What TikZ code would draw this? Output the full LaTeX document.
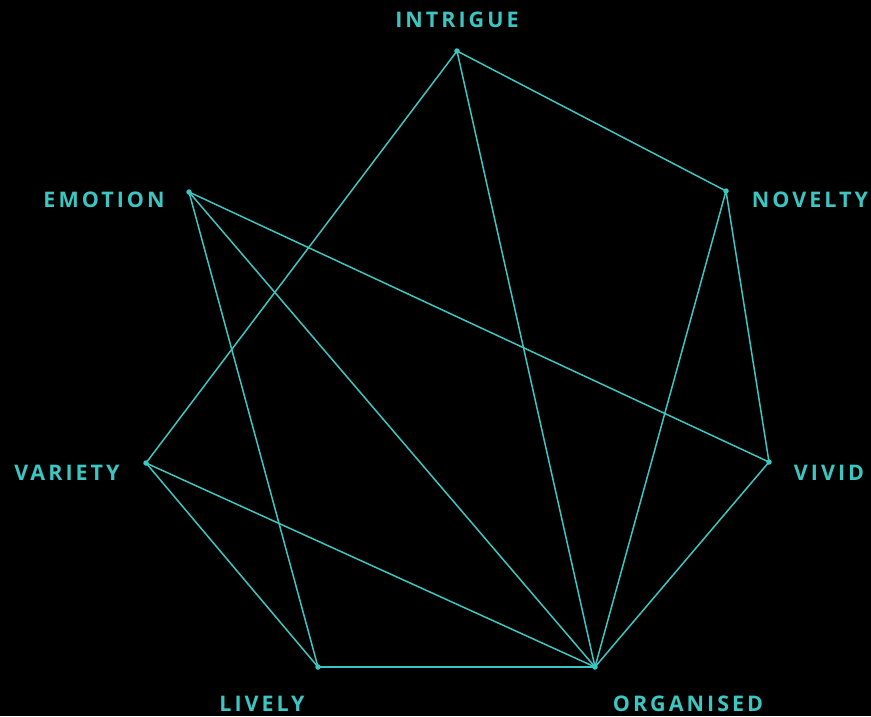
\documentclass[tikz,border=0pt]{standalone}
\usepackage{fontspec}
\setmainfont{Open Sans}
\newfontfamily\lblfont[LetterSpace=14]{Open Sans Bold}
\definecolor{teal1}{HTML}{3CC6C2}
\begin{document}
\begin{tikzpicture}[x=1pt,y=-1pt,
  pt/.style={circle,fill=teal1,inner sep=0pt,minimum size=5.5pt},
  lbl/.style={text=teal1,font=\lblfont\fontsize{21.5}{24}\selectfont,inner sep=0pt,anchor=center},
  edge/.style={draw=teal1,line width=1.5pt}]
\fill[black] (0,0) rectangle (871,716);
\useasboundingbox (0,0) rectangle (871,716);
\node[pt] (int) at (457,51) {};
\node[pt] (nov) at (726,191) {};
\node[pt] (emo) at (189,192) {};
\node[pt] (var) at (146,463) {};
\node[pt] (viv) at (769,462) {};
\node[pt] (liv) at (318,667) {};
\node[pt] (org) at (595,667) {};
\node[lbl] (lint) at (457,20) {INTRIGUE};
\node[lbl] (lnov) at (810,200) {NOVELTY};
\node[lbl] (lemo) at (104,200) {EMOTION};
\node[lbl] (lvar) at (67,473) {VARIETY};
\node[lbl] (lviv) at (829,473) {VIVID};
\node[lbl] (lliv) at (262,704) {LIVELY};
\node[lbl] (lorg) at (688,704) {ORGANISED};
\draw[edge] (int.center) -- (nov.center);
\draw[edge] (int.center) -- (var.center);
\draw[edge] (int.center) -- (org.center);
\draw[edge] (nov.center) -- (viv.center);
\draw[edge] (nov.center) -- (org.center);
\draw[edge] (emo.center) -- (viv.center);
\draw[edge] (emo.center) -- (org.center);
\draw[edge] (emo.center) -- (liv.center);
\draw[edge] (var.center) -- (liv.center);
\draw[edge] (var.center) -- (org.center);
\draw[edge] (liv.center) -- (org.center);
\draw[edge] (viv.center) -- (org.center);
\end{tikzpicture}
\end{document}
